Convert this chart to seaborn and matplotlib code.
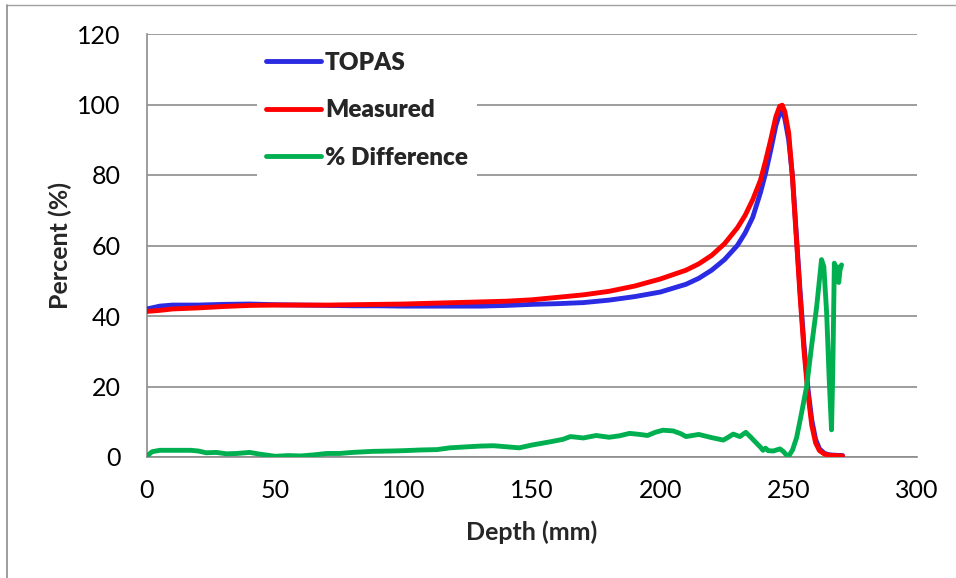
import numpy as np
import pandas as pd
import matplotlib
matplotlib.use("Agg")
import matplotlib.pyplot as plt
from matplotlib.lines import Line2D
import seaborn as sns

# ---------------- data ----------------
depth_topas = [0, 5, 10, 20, 30, 40, 50, 60, 70, 80, 90, 100, 110, 120, 130, 140, 150,
               160, 170, 180, 190, 200, 210, 215, 220, 225, 230, 233, 236, 239, 241, 243,
               245, 246.5, 247.5, 248.5, 250, 251.5, 253, 254.5, 256, 257.5, 259, 260.5,
               262, 264, 266, 268, 271]
topas = [42.0, 42.8, 43.1, 43.1, 43.3, 43.4, 43.2, 43.1, 43.0, 42.9, 42.9, 42.8, 42.8,
         42.8, 42.8, 43.0, 43.3, 43.5, 43.8, 44.5, 45.5, 46.8, 49.0, 50.7, 53.0, 56.0,
         60.0, 63.5, 68.0, 75.0, 80.5, 87.0, 94.0, 97.5, 98.0, 96.0, 90.0, 79.5, 63.0,
         46.5, 31.5, 19.5, 10.5, 5.0, 2.3, 1.0, 0.6, 0.5, 0.4]

depth_measured = [0, 5, 10, 20, 30, 40, 50, 60, 70, 80, 90, 100, 110, 120, 130, 140, 150,
                  160, 170, 180, 190, 200, 210, 215, 220, 225, 230, 233, 236, 239, 241, 243,
                  245, 246.5, 247.5, 248.5, 250, 251.5, 253, 254.5, 256, 257.5, 259, 260.5,
                  262, 264, 266, 268, 271]
measured = [41.3, 41.6, 42.0, 42.3, 42.7, 43.0, 43.1, 43.1, 43.1, 43.2, 43.3, 43.4, 43.6,
            43.8, 44.0, 44.2, 44.6, 45.3, 46.0, 47.0, 48.5, 50.5, 53.0, 54.8, 57.2, 60.5,
            65.0, 68.5, 73.0, 78.5, 84.0, 90.0, 96.5, 99.5, 99.8, 98.0, 92.0, 79.0, 62.0,
            45.0, 30.0, 18.0, 9.0, 4.0, 1.8, 0.8, 0.5, 0.4, 0.3]

depth_diff = [0, 2, 5, 10, 17, 20, 23, 27, 31, 35, 40, 44, 50, 55, 60, 65, 70, 75, 80, 88,
              95, 100, 107, 113, 118, 125, 130, 135, 140, 145, 150, 157, 162, 165, 170, 175,
              180, 184, 188, 192, 195, 198, 201, 205, 208, 210, 215, 220, 224.5, 226, 228.4,
              231, 233.3, 235, 237.5, 239, 240, 241, 242, 244, 246.6, 248, 249.8, 251.5,
              253.1, 255, 257, 258.9, 260.9, 262.8, 263.7, 264.8, 265.8, 266.7, 267.2,
              267.8, 268.5, 268.9, 269.5, 270.0, 270.6]
pct_diff = [0.3, 1.5, 1.9, 1.9, 1.9, 1.7, 1.2, 1.3, 0.9, 1.0, 1.3, 0.8, 0.2, 0.4, 0.3, 0.6,
            1.0, 1.0, 1.3, 1.6, 1.7, 1.8, 2.0, 2.1, 2.6, 2.9, 3.1, 3.2, 2.9, 2.6, 3.4, 4.3,
            5.0, 5.8, 5.4, 6.1, 5.6, 6.0, 6.7, 6.4, 6.1, 7.0, 7.6, 7.4, 6.6, 5.8, 6.4, 5.5,
            4.8, 5.4, 6.5, 5.8, 7.0, 5.8, 3.9, 2.8, 1.9, 2.5, 1.8, 1.7, 2.3, 1.5, 0.0, 2.0,
            5.5, 12.4, 20.0, 31.3, 42.6, 56.0, 54.0, 40.8, 21.8, 7.7, 25.0, 55.0, 50.0,
            54.0, 49.5, 53.0, 54.5]

series_names = ["TOPAS", "Measured", "% Difference"]
x_ticks = [0, 50, 100, 150, 200, 250, 300]
y_ticks = [0, 20, 40, 60, 80, 100, 120]

# ---------------- styling ----------------
sns.set_theme(style="white")
plt.rcParams["font.family"] = ["Lato", "DejaVu Sans"]

colors = {"TOPAS": "#2b2be3", "Measured": "#ff0000", "% Difference": "#00b050"}
grid_c = "#8c8c8c"

fig = plt.figure(figsize=(9.56, 5.78), dpi=100)
ax = fig.add_axes([147 / 956, 1 - 457 / 578, (917 - 147) / 956, (457 - 34) / 578])

df_t = pd.DataFrame({"Depth": depth_topas, "Percent": topas})
df_m = pd.DataFrame({"Depth": depth_measured, "Percent": measured})
df_d = pd.DataFrame({"Depth": depth_diff, "Percent": pct_diff})

lw = 3.5
sns.lineplot(data=df_t, x="Depth", y="Percent", ax=ax, color=colors["TOPAS"], lw=lw,
             estimator=None, sort=False, zorder=3, solid_capstyle="round")
sns.lineplot(data=df_m, x="Depth", y="Percent", ax=ax, color=colors["Measured"], lw=lw,
             estimator=None, sort=False, zorder=4, solid_capstyle="round")
sns.lineplot(data=df_d, x="Depth", y="Percent", ax=ax, color=colors["% Difference"], lw=lw,
             estimator=None, sort=False, zorder=5, solid_capstyle="round")

ax.set_xlim(0, 300)
ax.set_ylim(0, 120)
ax.set_xticks(x_ticks)
ax.set_yticks(y_ticks)
ax.set_xticklabels([str(v) for v in x_ticks])
ax.set_yticklabels([str(v) for v in y_ticks])
ax.tick_params(axis="both", length=0, labelsize=18, colors="black")
ax.tick_params(axis="y", pad=19)
ax.tick_params(axis="x", pad=16)

ax.yaxis.grid(True, color=grid_c, lw=1.2)
ax.xaxis.grid(False)
ax.set_axisbelow(True)
for s in ["top", "right"]:
    ax.spines[s].set_visible(False)
ax.spines["left"].set_color(grid_c)
ax.spines["left"].set_linewidth(1.2)
ax.spines["bottom"].set_color(grid_c)
ax.spines["bottom"].set_linewidth(1.2)
ax.set_facecolor("white")

ax.set_xlabel("Depth (mm)", fontsize=18, fontweight="bold")
ax.set_ylabel("Percent (%)", fontsize=18, fontweight="bold")
ax.xaxis.set_label_coords(0.5, (457 - 532) / 423)
ax.xaxis.label.set_va("center")
ax.yaxis.set_label_coords((60 - 147) / 770, 0.5)
ax.yaxis.label.set_va("center")

handles = [Line2D([0], [0], color=colors[n], lw=3.5, solid_capstyle="round") for n in series_names]
leg = ax.legend(handles, series_names, loc="upper left",
                bbox_to_anchor=((257 - 147) / 770, (457 - 43) / 423),
                frameon=True, facecolor="white", edgecolor="none", framealpha=1,
                fancybox=False, prop={"weight": "heavy", "size": 17.5},
                handlelength=2.3, handletextpad=0.15, labelspacing=1.05,
                borderpad=0.35, borderaxespad=0)
leg.set_zorder(10)

# outer chart border (partially visible)
fig.add_artist(Line2D([7 / 956, 1], [1 - 5 / 578, 1 - 5 / 578], transform=fig.transFigure,
                      color="#a0a0a0", lw=1.0))
fig.add_artist(Line2D([7 / 956, 7 / 956], [0, 1 - 5 / 578], transform=fig.transFigure,
                      color="#8c8c8c", lw=1.2))

fig.savefig("out.png", dpi=100, facecolor="white")
